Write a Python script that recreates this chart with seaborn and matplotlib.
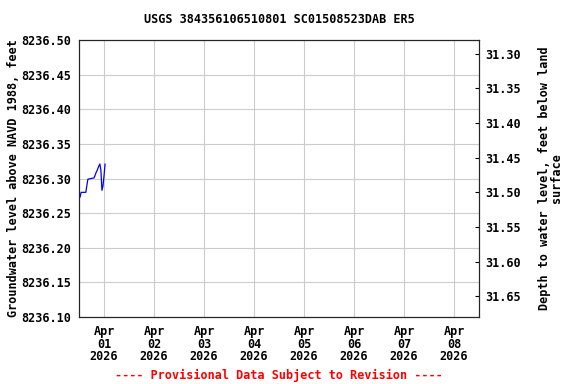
import pandas as pd
import numpy as np
import matplotlib.pyplot as plt
import seaborn as sns

# --- data ---
times = ["2026-03-31 12:30", "2026-03-31 13:00", "2026-03-31 15:15", "2026-03-31 16:15",
         "2026-03-31 19:15", "2026-03-31 20:15", "2026-03-31 20:45", "2026-03-31 21:30",
         "2026-03-31 22:00", "2026-03-31 22:30", "2026-03-31 23:00", "2026-03-31 23:30",
         "2026-04-01 00:00", "2026-04-01 00:30"]
levels = [8236.273, 8236.280, 8236.280, 8236.299,
          8236.301, 8236.309, 8236.312, 8236.318,
          8236.321, 8236.312, 8236.283, 8236.289,
          8236.304, 8236.321]
land_surface = 8267.78
left_ticks = [8236.10, 8236.15, 8236.20, 8236.25, 8236.30, 8236.35, 8236.40, 8236.45, 8236.50]
right_ticks = [31.30, 31.35, 31.40, 31.45, 31.50, 31.55, 31.60, 31.65]
day_ticks = pd.date_range("2026-04-01", "2026-04-08", freq="D")

df = pd.DataFrame({"time": pd.to_datetime(times), "level": levels})

sns.set_style("white")
plt.rcParams['font.family'] = ['DejaVu Sans Mono']
plt.rcParams['font.weight'] = 'bold'
plt.rcParams['text.color'] = 'black'
plt.rcParams['axes.labelcolor'] = 'black'
plt.rcParams['xtick.color'] = 'black'
plt.rcParams['ytick.color'] = 'black'
fs = 8.5

fig = plt.figure(figsize=(5.76, 3.84), dpi=100)
ax = fig.add_axes([0.1372, 0.1745, 0.6944, 0.7213])

sns.lineplot(data=df, x="time", y="level", ax=ax, color="blue", linewidth=0.9)

ax.set_xlim(pd.Timestamp("2026-03-31 12:00"), pd.Timestamp("2026-04-08 12:00"))
ax.set_ylim(8236.10, 8236.50)
ax.set_xticks(day_ticks)
ax.set_xticklabels([d.strftime("%b\n%d\n%Y") for d in day_ticks], linespacing=0.95)
ax.set_yticks(left_ticks)
ax.set_yticklabels([f"{v:.2f}" for v in left_ticks])
ax.grid(True, color="#cccccc", linewidth=0.8)
ax.tick_params(axis="y", labelsize=fs, length=0, pad=5.5)
ax.tick_params(axis="x", labelsize=fs, length=0, pad=6)
ax.set_xlabel("")
ax.set_ylabel("Groundwater level above NAVD 1988, feet", fontsize=fs, fontweight="bold",
              labelpad=1)
for s in ax.spines.values():
    s.set_color("black")
    s.set_linewidth(0.8)

ax2 = ax.twinx()
ax2.set_ylim(land_surface - 8236.10, land_surface - 8236.50)
ax2.set_yticks(right_ticks)
ax2.set_yticklabels([f"{v:.2f}" for v in right_ticks])
ax2.tick_params(labelsize=fs, length=3, width=0.8, direction="in", right=True, pad=4.5)
ax2.set_ylabel("Depth to water level, feet below land\nsurface", fontsize=fs,
               fontweight="bold", labelpad=12, linespacing=0.95)

ax.set_title("USGS 384356106510801 SC01508523DAB ER5", fontsize=fs, fontweight="bold", pad=12.5)
fig.text(0.4844, 0.0234, "---- Provisional Data Subject to Revision ----", color="red",
         ha="center", va="center", fontsize=fs, fontweight="bold")

fig.savefig("out.png", dpi=100)
